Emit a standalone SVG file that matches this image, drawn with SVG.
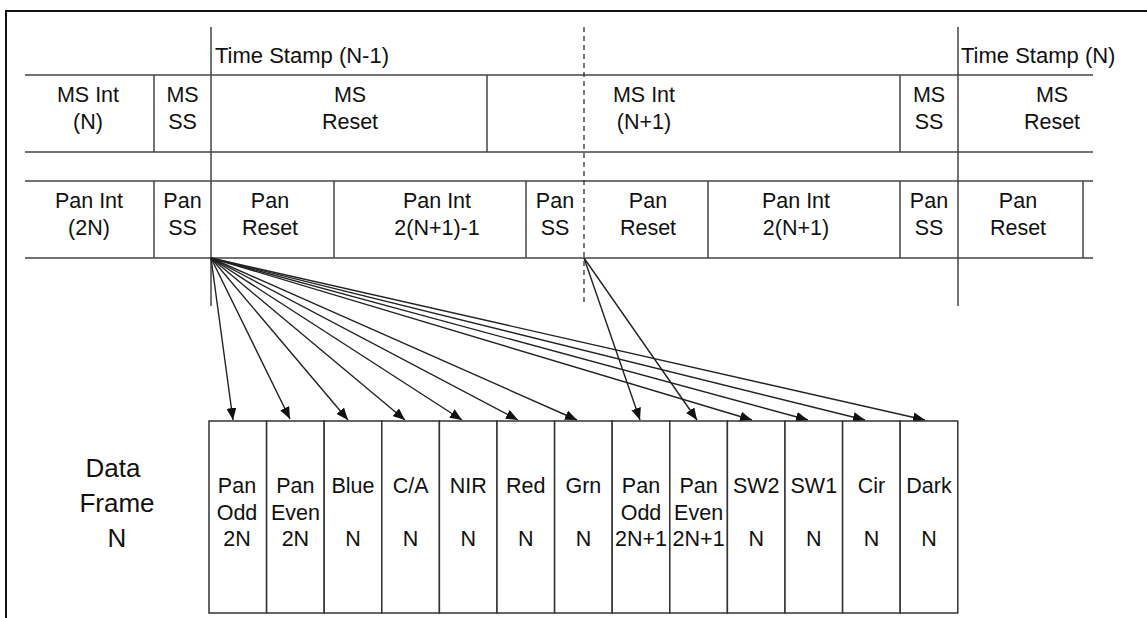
<svg xmlns="http://www.w3.org/2000/svg" width="1147" height="618" viewBox="0 0 1147 618">
<style>
  text { font-family: "Liberation Sans", Arial, sans-serif; font-size: 21.5px; fill: #111; text-anchor: middle; }
  .ts { text-anchor: start; font-size: 22px; }
  .big { font-size: 26px; }
  .ln { stroke: #444; stroke-width: 1.5; fill: none; }
  .dash { stroke: #333; stroke-width: 1.3; stroke-dasharray: 5 4; fill: none; }
  .arr { stroke: #222; stroke-width: 1.4; fill: none; marker-end: url(#ah); }
  .box { fill: #fff; stroke: #333; stroke-width: 1.5; }
</style>
<defs>
  <marker id="ah" markerUnits="userSpaceOnUse" markerWidth="12" markerHeight="10" refX="12" refY="5" orient="auto">
    <path d="M0,0 L12,5 L0,10 z" fill="#111"/>
  </marker>
</defs>
<rect width="1147" height="618" fill="#fff"/>
<g id="frame">
  <path d="M6,618 V11 H1147" stroke="#111" stroke-width="2" fill="none"/>
</g>
<g id="timeline-grid">
  <line class="ln" x1="25" y1="75" x2="1093" y2="75"/>
  <line class="ln" x1="25" y1="152" x2="1093" y2="152"/>
  <line class="ln" x1="25" y1="181" x2="1093" y2="181"/>
  <line class="ln" x1="25" y1="258" x2="1093" y2="258"/>
  <line class="ln" x1="211" y1="27" x2="211" y2="306"/>
  <line class="ln" x1="958" y1="27" x2="958" y2="306"/>
  <line class="dash" x1="584" y1="27" x2="584" y2="306"/>
  <line class="ln" x1="154" y1="75" x2="154" y2="152"/>
  <line class="ln" x1="487" y1="75" x2="487" y2="152"/>
  <line class="ln" x1="900" y1="75" x2="900" y2="152"/>
  <line class="ln" x1="154" y1="181" x2="154" y2="258"/>
  <line class="ln" x1="334" y1="181" x2="334" y2="258"/>
  <line class="ln" x1="526" y1="181" x2="526" y2="258"/>
  <line class="ln" x1="708" y1="181" x2="708" y2="258"/>
  <line class="ln" x1="900" y1="181" x2="900" y2="258"/>
  <line class="ln" x1="1083" y1="181" x2="1083" y2="258"/>
</g>
<g id="timestamps">
  <text class="ts" x="215" y="63">Time Stamp (N-1)</text>
  <text class="ts" x="961" y="63">Time Stamp (N)</text>
</g>
<g id="ms-row">
  <text x="88" y="102">MS Int</text><text x="88" y="128.5">(N)</text>
  <text x="182.5" y="102">MS</text><text x="182.5" y="128.5">SS</text>
  <text x="350" y="102">MS</text><text x="350" y="128.5">Reset</text>
  <text x="644" y="102">MS Int</text><text x="644" y="128.5">(N+1)</text>
  <text x="929" y="102">MS</text><text x="929" y="128.5">SS</text>
  <text x="1052" y="102">MS</text><text x="1052" y="128.5">Reset</text>
</g>
<g id="pan-row">
  <text x="89" y="208">Pan Int</text><text x="89" y="235">(2N)</text>
  <text x="182.5" y="208">Pan</text><text x="182.5" y="235">SS</text>
  <text x="270" y="208">Pan</text><text x="270" y="235">Reset</text>
  <text x="437" y="208">Pan Int</text><text x="437" y="235">2(N+1)-1</text>
  <text x="555" y="208">Pan</text><text x="555" y="235">SS</text>
  <text x="648" y="208">Pan</text><text x="648" y="235">Reset</text>
  <text x="796" y="208">Pan Int</text><text x="796" y="235">2(N+1)</text>
  <text x="929" y="208">Pan</text><text x="929" y="235">SS</text>
  <text x="1018" y="208">Pan</text><text x="1018" y="235">Reset</text>
</g>
<g id="data-frame-label">
  <text class="big" x="113" y="477">Data</text>
  <text class="big" x="117" y="512">Frame</text>
  <text class="big" x="117" y="547">N</text>
</g>
<g id="connectors">
  <line class="arr" x1="211" y1="258" x2="233" y2="420"/>
  <line class="arr" x1="211" y1="258" x2="290" y2="419"/>
  <line class="arr" x1="211" y1="258" x2="348" y2="420"/>
  <line class="arr" x1="211" y1="258" x2="405" y2="420"/>
  <line class="arr" x1="211" y1="258" x2="462" y2="420"/>
  <line class="arr" x1="211" y1="258" x2="518" y2="420"/>
  <line class="arr" x1="211" y1="258" x2="577" y2="420"/>
  <line class="arr" x1="211" y1="258" x2="752" y2="420"/>
  <line class="arr" x1="211" y1="258" x2="808" y2="420"/>
  <line class="arr" x1="211" y1="258" x2="865" y2="420"/>
  <line class="arr" x1="211" y1="258" x2="925" y2="420"/>
  <line class="arr" x1="584" y1="258" x2="640" y2="420"/>
  <line class="arr" x1="584" y1="258" x2="697" y2="420"/>
</g>
<g id="box-pan-odd-2n"><rect class="box" x="209" y="421" width="57.6" height="192"/><text x="237" y="493">Pan</text><text x="237" y="520">Odd</text><text x="237" y="546">2N</text></g>
<g id="box-pan-even-2n"><rect class="box" x="266.6" y="421" width="57.6" height="192"/><text x="295.4" y="493">Pan</text><text x="295.4" y="520">Even</text><text x="295.4" y="546">2N</text></g>
<g id="box-blue"><rect class="box" x="324.2" y="421" width="57.6" height="192"/><text x="353" y="493">Blue</text><text x="353" y="546">N</text></g>
<g id="box-ca"><rect class="box" x="381.8" y="421" width="57.6" height="192"/><text x="410.6" y="493">C/A</text><text x="410.6" y="546">N</text></g>
<g id="box-nir"><rect class="box" x="439.4" y="421" width="57.6" height="192"/><text x="468.2" y="493">NIR</text><text x="468.2" y="546">N</text></g>
<g id="box-red"><rect class="box" x="497" y="421" width="57.6" height="192"/><text x="525.8" y="493">Red</text><text x="525.8" y="546">N</text></g>
<g id="box-grn"><rect class="box" x="554.6" y="421" width="57.6" height="192"/><text x="583.4" y="493">Grn</text><text x="583.4" y="546">N</text></g>
<g id="box-pan-odd-2n1"><rect class="box" x="612.2" y="421" width="57.6" height="192"/><text x="641" y="493">Pan</text><text x="641" y="520">Odd</text><text x="641" y="546">2N+1</text></g>
<g id="box-pan-even-2n1"><rect class="box" x="669.8" y="421" width="57.6" height="192"/><text x="698.6" y="493">Pan</text><text x="698.6" y="520">Even</text><text x="698.6" y="546">2N+1</text></g>
<g id="box-sw2"><rect class="box" x="727.4" y="421" width="57.6" height="192"/><text x="756.2" y="493">SW2</text><text x="756.2" y="546">N</text></g>
<g id="box-sw1"><rect class="box" x="785" y="421" width="57.6" height="192"/><text x="813.8" y="493">SW1</text><text x="813.8" y="546">N</text></g>
<g id="box-cir"><rect class="box" x="842.6" y="421" width="57.6" height="192"/><text x="871.4" y="493">Cir</text><text x="871.4" y="546">N</text></g>
<g id="box-dark"><rect class="box" x="900.2" y="421" width="57.6" height="192"/><text x="929" y="493">Dark</text><text x="929" y="546">N</text></g>
</svg>
